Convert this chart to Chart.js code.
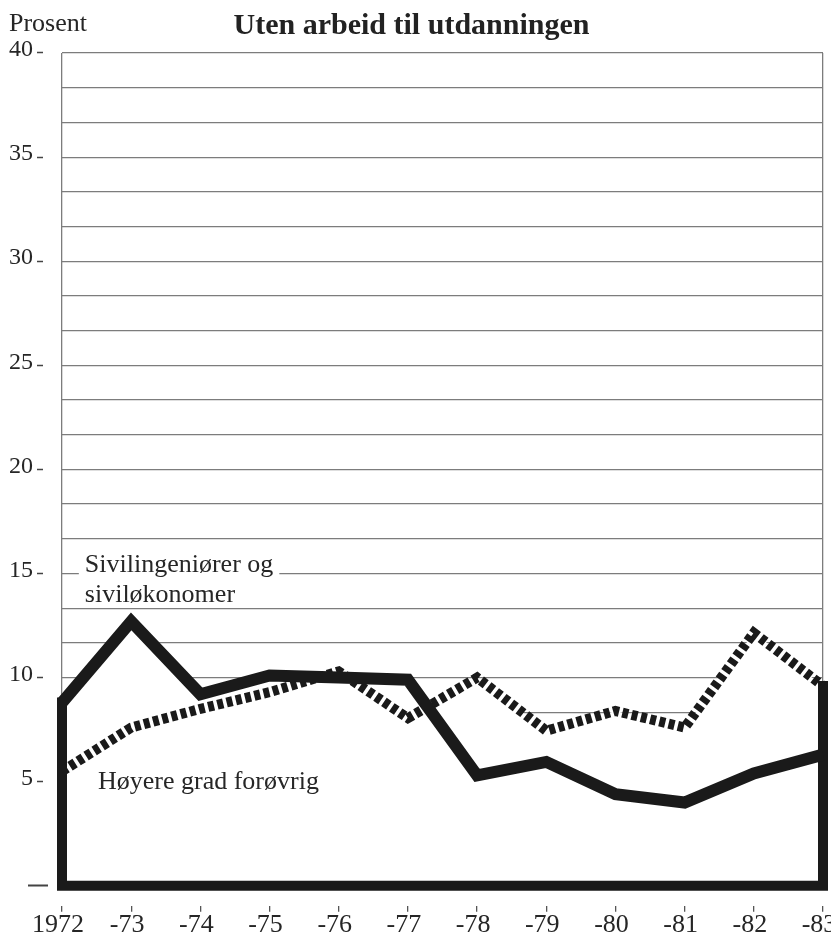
<!DOCTYPE html>
<html>
<head>
<meta charset="utf-8">
<script src="https://cdn.jsdelivr.net/npm/chart.js@4.4.1/dist/chart.umd.min.js"></script>
<style>
  html, body { margin: 0; padding: 0; background: #ffffff; }
  #wrap { width: 831px; height: 939px; }
</style>
</head>
<body>
<div id="wrap"><canvas id="c" width="831" height="939"></canvas></div>
<script>
// ---- data ----
const years = ['1972', '-73', '-74', '-75', '-76', '-77', '-78', '-79', '-80', '-81', '-82', '-83'];
const sivilingeniorer = [8.8, 12.7, 9.2, 10.1, 10.0, 9.9, 5.3, 5.95, 4.4, 4.0, 5.4, 6.3];
const hoyereGrad = [5.5, 7.6, 8.5, 9.3, 10.3, 8.05, 10.0, 7.45, 8.4, 7.6, 12.15, 9.6];
const yMin = 0;
const yMax = 40;
const yLabelStep = 5;
const yGridPerLabel = 3;
const chartTitle = 'Uten arbeid til utdanningen';
const yUnitText = 'Prosent';
const sivLabel = ['Sivilingeniører og', 'siviløkonomer'];
const hoyLabel = ['Høyere grad forøvrig'];

// ---- derived ----
const toPoints = arr => arr.map((v, i) => ({ x: i, y: v }));
const last = years.length - 1;
const framePoints = [
  { x: 0, y: Math.max(sivilingeniorer[0], hoyereGrad[0]) },
  { x: 0, y: yMin },
  { x: last, y: yMin },
  { x: last, y: Math.max(sivilingeniorer[last], hoyereGrad[last]) }
];
const gridStep = yLabelStep / yGridPerLabel;
const yGridValues = [];
for (let j = 0; j <= Math.round((yMax - yMin) / gridStep); j++) yGridValues.push(yMin + j * gridStep);
const isLabelTick = v => Math.abs(v - Math.round(v / yLabelStep) * yLabelStep) < 1e-6;
const isZero = v => Math.abs(v) < 1e-6;

const SERIF = '"Liberation Serif", "DejaVu Serif", serif';
const INK = '#1a1a1a';
const TEXT = '#262626';
const GRID = '#7c7c7c';

const textPlugin = {
  id: 'seriesText',
  afterDatasetsDraw(chart, args, opts) {
    const { ctx } = chart;
    const xs = chart.scales.x, ys = chart.scales.y;
    ctx.save();
    ctx.font = '26px ' + SERIF;
    ctx.textBaseline = 'alphabetic';
    ctx.textAlign = 'left';
    // Sivilingeniører label with white backing over the gridline
    let px = xs.getPixelForValue(opts.siv.x);
    let py = ys.getPixelForValue(opts.siv.y);
    const w = ctx.measureText(sivLabel[0]).width;
    ctx.fillStyle = '#ffffff';
    ctx.fillRect(px - 6, py - 22, w + 12, 28);
    ctx.fillStyle = TEXT;
    sivLabel.forEach((t, i) => ctx.fillText(t, px, py + i * 30));
    // Høyere grad label
    px = xs.getPixelForValue(opts.hoy.x);
    py = ys.getPixelForValue(opts.hoy.y);
    hoyLabel.forEach((t, i) => ctx.fillText(t, px, py + i * 30));
    // unit text
    ctx.font = '26px ' + SERIF;
    ctx.fillText(yUnitText, 9, 31);
    ctx.restore();
  }
};

new Chart(document.getElementById('c'), {
  type: 'line',
  data: {
    datasets: [
      {
        label: 'Sivilingeniører og siviløkonomer',
        data: toPoints(sivilingeniorer),
        borderColor: INK,
        borderWidth: 12,
        borderJoinStyle: 'miter',
        borderCapStyle: 'butt',
        pointRadius: 0,
        tension: 0,
        fill: 'origin',
        backgroundColor: '#ffffff',
        clip: false
      },
      {
        label: 'Høyere grad forøvrig',
        data: toPoints(hoyereGrad),
        borderColor: INK,
        borderWidth: 10,
        borderDash: [6, 3.5],
        borderJoinStyle: 'miter',
        borderCapStyle: 'butt',
        pointRadius: 0,
        tension: 0,
        fill: 'origin',
        backgroundColor: '#ffffff',
        clip: false
      },
      {
        label: 'ramme',
        data: framePoints,
        borderColor: INK,
        borderWidth: 10,
        borderJoinStyle: 'miter',
        borderCapStyle: 'square',
        pointRadius: 0,
        tension: 0,
        fill: false,
        clip: false
      }
    ]
  },
  options: {
    responsive: false,
    animation: false,
    devicePixelRatio: 1,
    layout: { padding: { left: 0, right: 8, top: 0, bottom: 0 } },
    plugins: {
      legend: { display: false },
      tooltip: { enabled: false },
      filler: { drawTime: 'beforeDatasetsDraw' },
      title: {
        display: true,
        text: chartTitle,
        color: '#222222',
        font: { family: SERIF, size: 30, weight: 'bold' },
        padding: { top: 8, bottom: 9 }
      },
      seriesText: {
        siv: { x: 0.33, y: 15.06 },
        hoy: { x: 0.52, y: 4.65 }
      }
    },
    scales: {
      x: {
        type: 'linear',
        min: 0,
        max: last,
        afterBuildTicks: s => { s.ticks = years.map((_, i) => ({ value: i })); },
        afterFit: s => { s.paddingLeft = 0; s.paddingRight = 0; },
        border: { display: false },
        grid: {
          display: true,
          drawOnChartArea: true,
          color: c => (c.tick && (c.tick.value === 0 || c.tick.value === last)) ? GRID : 'rgba(0,0,0,0)',
          lineWidth: 1.3,
          drawTicks: true,
          tickLength: 26,
          tickColor: '#555555',
          tickWidth: 1.3,
          tickBorderDash: [0, 20, 6, 100]
        },
        ticks: {
          autoSkip: false,
          maxRotation: 0,
          padding: -2,
          labelOffset: -4,
          color: TEXT,
          font: { family: SERIF, size: 26 },
          callback: v => years[v] ?? ''
        }
      },
      y: {
        type: 'linear',
        min: yMin,
        max: yMax,
        afterBuildTicks: s => { s.ticks = yGridValues.map(v => ({ value: v })); },
        afterFit: s => { s.width = 62; },
        border: { display: false },
        grid: {
          display: true,
          drawOnChartArea: true,
          color: GRID,
          lineWidth: 1.2,
          drawTicks: true,
          tickLength: 35,
          tickWidth: c => (c.tick && isZero(c.tick.value)) ? 2 : 1.5,
          tickColor: c => (c.tick && isLabelTick(c.tick.value)) ? '#444444' : 'rgba(0,0,0,0)',
          tickBorderDash: c => (c.tick && isZero(c.tick.value)) ? [0, 1, 20, 100] : [0, 10, 6, 100]
        },
        ticks: {
          autoSkip: false,
          padding: -6,
          labelOffset: -3,
          color: TEXT,
          font: { family: SERIF, size: 24 },
          callback: v => (isLabelTick(v) && !isZero(v)) ? String(Math.round(v)) : ''
        }
      }
    }
  },
  plugins: [textPlugin]
});
</script>
</body>
</html>
